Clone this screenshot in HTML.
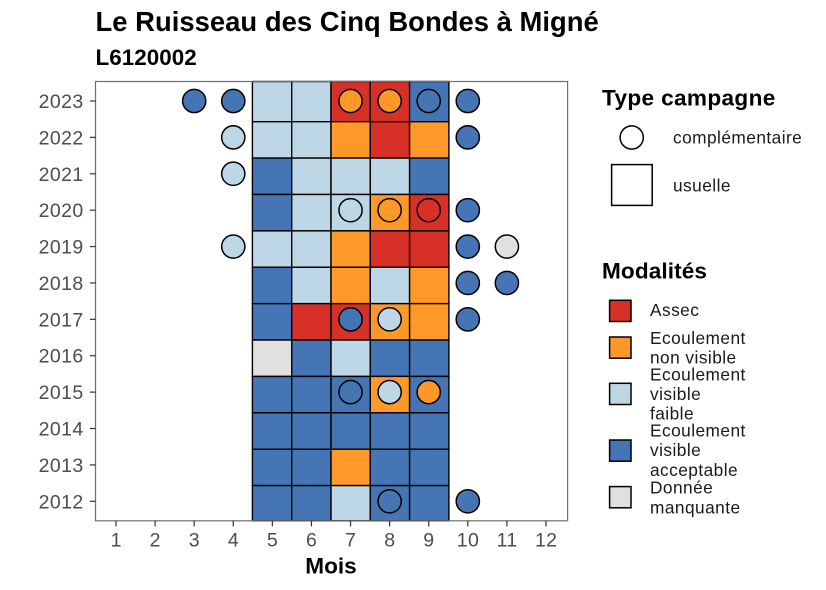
<!DOCTYPE html>
<html lang="fr">
<head>
<meta charset="utf-8">
<title>Le Ruisseau des Cinq Bondes à Migné</title>
<style>
html,body{margin:0;padding:0;background:#fff;}
svg{display:block;font-family:"Liberation Sans",sans-serif;}
.tick{font-size:19.5px;fill:#4d4d4d;letter-spacing:0.4px;}
.leg{font-size:17.3px;fill:#1a1a1a;letter-spacing:0.45px;}
.bold{font-weight:bold;fill:#000;}
</style>
</head>
<body>
<svg id="chart" xmlns="http://www.w3.org/2000/svg" width="826" height="590" viewBox="0 0 826 590">
  <rect width="826" height="590" fill="#fff"/>
  <text class="bold" x="95.5" y="31" font-size="27.4" letter-spacing="0.03">Le Ruisseau des Cinq Bondes à Migné</text>
  <text class="bold" x="95.5" y="65" font-size="22.4" letter-spacing="0.05">L6120002</text>
  <text class="bold" x="331" y="573.3" font-size="22.6" text-anchor="middle">Mois</text>
  <text class="bold" x="602" y="105.3" font-size="22.6" letter-spacing="0.35">Type campagne</text>
  <circle cx="631.7" cy="137.5" r="11.6" fill="#fff" stroke="#000" stroke-width="1.5"/>
  <text class="leg" x="673" y="143.3">complémentaire</text>
  <rect x="611.6" y="164.6" width="40.6" height="40.8" fill="#fff" stroke="#000" stroke-width="1.5"/>
  <text class="leg" x="673" y="191.3">usuelle</text>
  <text class="bold" x="602" y="278.3" font-size="22.6" letter-spacing="0.1">Modalités</text>
  <g id="tiles"></g>
  <g id="points"></g>
  <g id="axes"></g>
  <g id="legend"></g>
</svg>
<script>
var months = [1,2,3,4,5,6,7,8,9,10,11,12];
var years = [2023,2022,2021,2020,2019,2018,2017,2016,2015,2014,2013,2012];
var tileMonths = [5,6,7,8,9];
var tiles2023 = ['F','F','A','A','V'];
var tiles2022 = ['F','F','O','A','O'];
var tiles2021 = ['V','F','F','F','V'];
var tiles2020 = ['V','F','F','O','A'];
var tiles2019 = ['F','F','O','A','A'];
var tiles2018 = ['V','F','O','F','O'];
var tiles2017 = ['V','A','A','O','O'];
var tiles2016 = ['M','V','F','V','V'];
var tiles2015 = ['V','V','V','O','V'];
var tiles2014 = ['V','V','V','V','V'];
var tiles2013 = ['V','V','O','V','V'];
var tiles2012 = ['V','V','F','V','V'];
var tileRows = [tiles2023,tiles2022,tiles2021,tiles2020,tiles2019,tiles2018,tiles2017,tiles2016,tiles2015,tiles2014,tiles2013,tiles2012];
var pointYears  = [2023,2023,2023,2023,2023,2023,2022,2022,2021,2020,2020,2020,2020,2019,2019,2019,2018,2018,2017,2017,2017,2015,2015,2015,2012,2012];
var pointMonths = [3,4,7,8,9,10,4,10,4,7,8,9,10,4,10,11,10,11,7,8,10,7,8,9,8,10];
var pointValues = ['V','V','O','O','V','V','F','V','F','F','O','A','V','F','V','M','V','V','V','F','V','V','F','O','V','V'];
var modaliteKeys = ['A','O','F','V','M'];
var modaliteColors = ['#d73027','#fe9929','#bdd7e7','#4575b4','#e0e0e0'];
var modaliteLabels = [['Assec'],['Ecoulement','non visible'],['Ecoulement','visible','faible'],['Ecoulement','visible','acceptable'],['Donnée','manquante']];

var NS = 'http://www.w3.org/2000/svg';
var panel = {left:95.5, right:567.6, top:81.5, bottom:520.8};
function xScale(m){ return 116 + (m - 1) * 39.09; }
function yScale(y){ return 101 + (2023 - y) * 36.39; }
function tileLeft(m){ return 252.4 + (m - 5) * 39.3; }
function colorOf(k){ return modaliteColors[modaliteKeys.indexOf(k)]; }
function make(tag, parent, attrs){
  var el = document.createElementNS(NS, tag);
  for (var k in attrs) el.setAttribute(k, attrs[k]);
  parent.appendChild(el);
  return el;
}
var tilesG = document.getElementById('tiles');
var pointsG = document.getElementById('points');
var axesG = document.getElementById('axes');
var legendG = document.getElementById('legend');

years.forEach(function(year, r){
  tileMonths.forEach(function(m, c){
    var top = r === 0 ? panel.top : yScale(year) - 15.7;
    var bottom = Math.min(yScale(year) + 20.7, panel.bottom);
    var left = tileLeft(m);
    var right = tileLeft(m + 1);
    var t = make('rect', tilesG, {x:left, y:top, width:right-left, height:bottom-top, fill:colorOf(tileRows[r][c]), stroke:'#000', 'stroke-width':1.4});
    
    
  });
});

pointYears.forEach(function(year, i){
  var p = make('circle', pointsG, {cx:xScale(pointMonths[i]), cy:yScale(year), r:11.6, fill:colorOf(pointValues[i]), stroke:'#000', 'stroke-width':1.5});
  
  
});

var frame = make('rect', axesG, {x:panel.left, y:panel.top, width:panel.right-panel.left, height:panel.bottom-panel.top, fill:'none', stroke:'#6e6e6e', 'stroke-width':1.2});



months.forEach(function(m){
  var tk = make('line', axesG, {x1:xScale(m), x2:xScale(m), y1:panel.bottom, y2:panel.bottom+5.6, stroke:'#333', 'stroke-width':1.2});
  
  
  var lb = make('text', axesG, {x:xScale(m)+0.2, y:546.7, 'text-anchor':'middle', 'class':'tick'});
  lb.textContent = m;
  
  
});

years.forEach(function(year){
  var tk = make('line', axesG, {x1:panel.left-5.6, x2:panel.left, y1:yScale(year), y2:yScale(year), stroke:'#333', 'stroke-width':1.2});
  
  
  var lb = make('text', axesG, {x:83.6, y:yScale(year)+7, 'text-anchor':'end', 'class':'tick'});
  lb.textContent = year;
  
  
});

var legendSwatchTops = [300.3, 337, 383.3, 440, 486.6];
var legendLineBaselines = [[316],[344,363.3],[380.7,399.8,419.3],[436.7,456,476],[493.3,513.3]];
modaliteKeys.forEach(function(k, i){
  var s = make('rect', legendG, {x:609.6, y:legendSwatchTops[i], width:21.4, height:21.2, fill:modaliteColors[i], stroke:'#000', 'stroke-width':1.5});
  
  
  var t = make('text', legendG, {'class':'leg', x:650, y:legendLineBaselines[i][0]});
  
  
  modaliteLabels[i].forEach(function(line, j){
    var ts = make('tspan', t, {x:650, y:legendLineBaselines[i][j]});
    ts.textContent = line;
  });
});
</script>
</body>
</html>
